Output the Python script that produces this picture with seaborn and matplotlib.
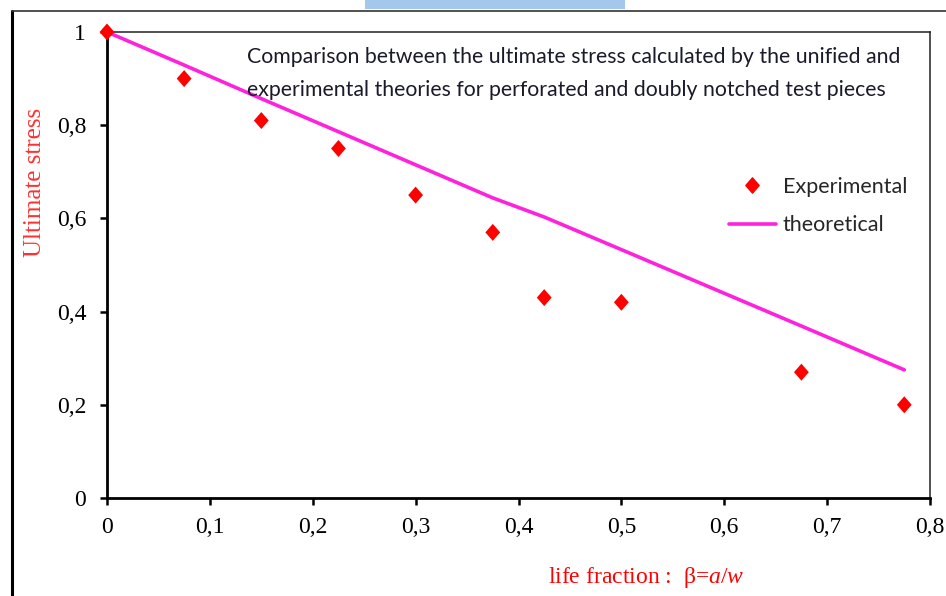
import numpy as np
import pandas as pd
import matplotlib
matplotlib.use("Agg")
import matplotlib.pyplot as plt
from matplotlib.lines import Line2D
from matplotlib.patches import Rectangle
from matplotlib.path import Path
from matplotlib.ticker import FuncFormatter, FixedLocator
import seaborn as sns

# ---- data ----
beta = [0.0, 0.075, 0.15, 0.225, 0.3, 0.375, 0.425, 0.5, 0.675, 0.775]
experimental = [1.0, 0.90, 0.81, 0.75, 0.65, 0.57, 0.43, 0.42, 0.27, 0.20]
theoretical = [1.0, 0.929, 0.857, 0.786, 0.715, 0.644, 0.603, 0.533, 0.369, 0.275]
x_ticks = [0, 0.1, 0.2, 0.3, 0.4, 0.5, 0.6, 0.7, 0.8]
y_ticks = [0, 0.2, 0.4, 0.6, 0.8, 1.0]
title_lines = ["Comparison between the ultimate stress calculated by the unified and",
               "experimental theories for perforated and doubly notched test pieces"]

df = pd.DataFrame({"beta": beta, "exp": experimental, "theo": theoretical})

sns.set_style("ticks")
plt.rcParams["font.family"] = ["Liberation Serif", "DejaVu Serif"]
plt.rcParams["mathtext.fontset"] = "custom"
plt.rcParams["mathtext.it"] = "Liberation Serif:italic"
plt.rcParams["mathtext.rm"] = "Liberation Serif"

W, H = 946, 596
fig = plt.figure(figsize=(W / 100, H / 100), dpi=100)
ax = fig.add_axes([107 / W, 1 - 498 / H, (930 - 107) / W, (498 - 32) / H])

diamond = Path([(0, 1), (0.87, 0), (0, -1), (-0.87, 0), (0, 1)],
               [Path.MOVETO, Path.LINETO, Path.LINETO, Path.LINETO, Path.CLOSEPOLY])

sns.lineplot(data=df, x="beta", y="theo", ax=ax, color="#ff22dd", lw=2.6,
             label="theoretical", zorder=2, clip_on=False)
sns.scatterplot(data=df, x="beta", y="exp", ax=ax, color="#ff0000", marker=diamond,
                s=150, edgecolor="none", label="Experimental", zorder=3, clip_on=False)

ax.set_xlim(0, 0.8)
ax.set_ylim(0, 1)
ax.xaxis.set_major_locator(FixedLocator(x_ticks))
ax.yaxis.set_major_locator(FixedLocator(y_ticks))
fmt = FuncFormatter(lambda v, p: f"{v:g}".replace(".", ","))
ax.xaxis.set_major_formatter(fmt)
ax.yaxis.set_major_formatter(fmt)
ax.tick_params(axis="both", direction="out", length=5, width=1.8, labelsize=17,
               colors="black")
ax.tick_params(axis="x", pad=9)
ax.tick_params(axis="y", pad=10)

for side in ["left", "bottom"]:
    ax.spines[side].set_linewidth(2.0)
    ax.spines[side].set_color("black")
for side in ["top", "right"]:
    ax.spines[side].set_visible(True)
    ax.spines[side].set_linewidth(1.1)
    ax.spines[side].set_color("#222222")

ax.set_xlabel("")
ax.set_ylabel("")
fig.text(35 / W, 1 - 182 / H, "Ultimate stress", rotation=90, color="#ff3030",
         fontsize=18, ha="center", va="center")
fig.text(646 / W, 1 - 578 / H, r"life fraction :  β=$\mathit{a}$/$\mathit{w}$",
         color="#ff0000", fontsize=17, ha="center", va="center")

ax.text(247 / W, 1 - 57 / H, title_lines[0], transform=fig.transFigure,
        family=["Lato", "DejaVu Sans"], fontsize=15.3, color="#1a1a2a", va="center", ha="left")
ax.text(247 / W, 1 - 90 / H, title_lines[1], transform=fig.transFigure,
        family=["Lato", "DejaVu Sans"], fontsize=15.3, color="#1a1a2a", va="center", ha="left")

handles = [Line2D([], [], color="#ff0000", marker=diamond, ms=11, ls="none"),
           Line2D([], [], color="#ff22dd", lw=2.6)]
leg = ax.legend(handles, ["Experimental", "theoretical"], frameon=False,
                loc="center left", bbox_to_anchor=(718 / W, 1 - 206 / H),
                bbox_transform=fig.transFigure, prop={"family": "Lato", "size": 15.5},
                handlelength=2.2, handletextpad=0.3, labelspacing=0.85, borderpad=0)

# outer frame and top bar (decoration of the original screenshot)
fig.add_artist(Line2D([12 / W, 12 / W], [0, 1 - 11 / H], transform=fig.transFigure,
                      color="black", lw=2.2))
fig.add_artist(Line2D([12 / W, 1], [1 - 11 / H, 1 - 11 / H], transform=fig.transFigure,
                      color="#333333", lw=1.2))
fig.add_artist(Rectangle((365 / W, 1 - 9 / H), 260 / W, 9 / H, transform=fig.transFigure,
                         color="#a4c8ec", lw=0))

fig.savefig("out.png", dpi=100)
